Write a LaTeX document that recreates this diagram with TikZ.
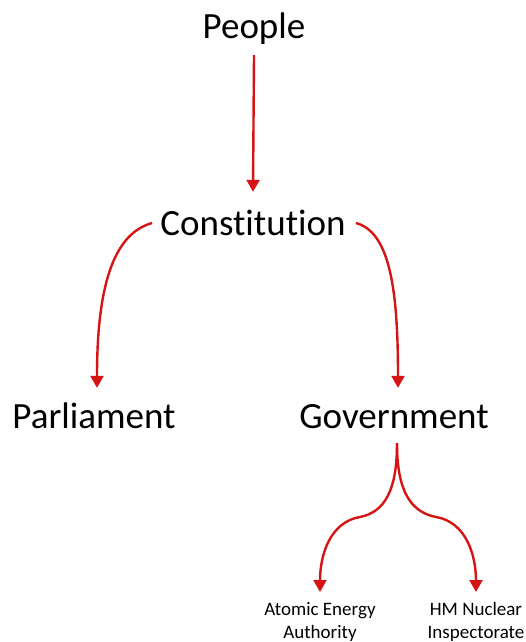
\documentclass[tikz,border=0pt]{standalone}
\usepackage{fontspec}
\setmainfont{Carlito}[Ligatures=NoCommon]
\usetikzlibrary{arrows.meta}
\definecolor{linkred}{RGB}{215,20,20}
\begin{document}
\begin{tikzpicture}[x=1pt,y=-1pt,
	big/.style={font=\fontsize{37}{44}\selectfont, text height=26pt, text depth=8pt, inner sep=0pt, anchor=base},
	small/.style={font=\fontsize{19}{23}\selectfont, align=center, inner sep=0pt, anchor=north},
	link/.style={linkred, line width=2.4pt, -{Triangle[width=13pt,length=12pt]}}]
		\useasboundingbox (0,0) rectangle (526,642);
		
		\node[big] (people) at (254,38) {People};
		\node[big] (constitution) at (253,235) {Constitution};
		\node[big] (parliament) at (94,428) {Parliament};
		\node[big] (government) at (394,428) {Government};
		\node[small] (atomic) at (320,602) {Atomic Energy\\Authority};
		\node[small] (inspectorate) at (476,602) {HM Nuclear\\Inspectorate};
		
		\draw[link] ([yshift=-9pt]people.south) -- ([yshift=17pt]constitution.north);
		\draw[link] ([shift={(-8pt,3pt)}]constitution.west) .. controls (112,234) and (97,290) .. ([shift={(3pt,14pt)}]parliament.north);
		\draw[link] ([shift={(10pt,3pt)}]constitution.east) .. controls (390,232) and (398,290) .. ([shift={(4pt,14pt)}]government.north);
		\draw[link] ([shift={(3pt,-7pt)}]government.south) .. controls (397,490) and (385,512) .. (360,517) .. controls (330,522) and (320,555) .. ([yshift=10pt]atomic.north);
		\draw[link] ([shift={(3pt,-7pt)}]government.south) .. controls (397,490) and (410,512) .. (436,517) .. controls (466,522) and (476,555) .. ([yshift=10pt]inspectorate.north);
	\end{tikzpicture}
\end{document}
